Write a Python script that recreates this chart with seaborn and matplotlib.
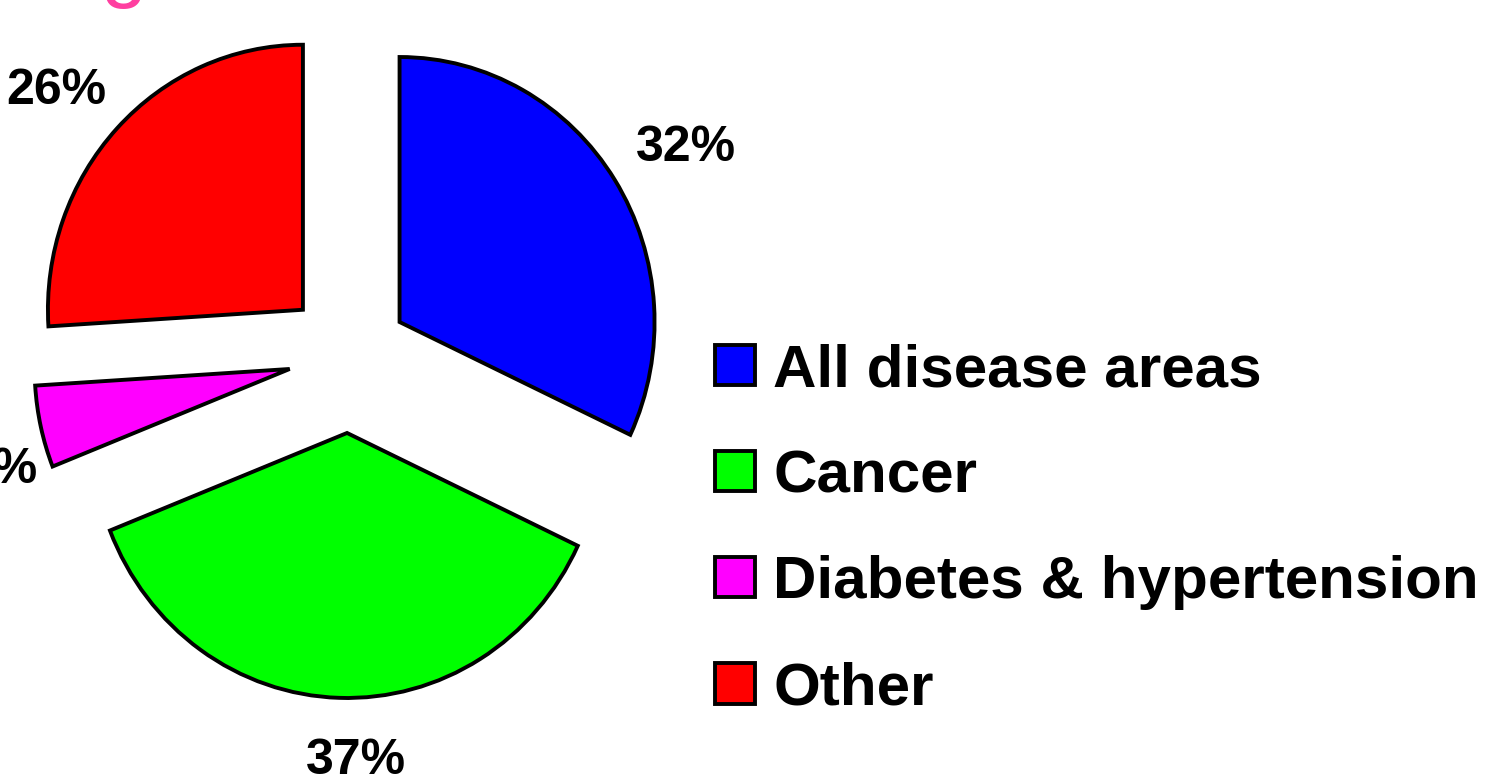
import matplotlib
matplotlib.use("Agg")
import numpy as np
import matplotlib.pyplot as plt
import seaborn as sns

# Share of projects by disease area
categories = ["All disease areas", "Cancer", "Diabetes & hypertension", "Other"]
shares = [32, 37, 5, 26]

# Styling
slice_colors = ["#0000FF", "#00FF00", "#FF00FF", "#FF0000"]
explode = [0.233, 0.294, 0.24, 0.25]
label_dist = [1.30, 1.24, 1.19, 1.27]    # radial distance of each % label
label_turn = [-2.1, 3.5, 6.0, 2.7]       # small angular nudge (degrees)
title_color = "#FF3FA0"

sns.set_theme(style="white")
plt.rcParams["font.family"] = ["Liberation Sans", "DejaVu Sans"]
plt.rcParams["text.color"] = "black"

W, H = 1488, 774
fig = plt.figure(figsize=(W / 100, H / 100), dpi=100)
ax = fig.add_axes([0, 0, 1, 1])

wedges, texts, autotexts = ax.pie(
    shares,
    explode=explode,
    colors=slice_colors,
    startangle=90,
    counterclock=False,
    autopct="%1.0f%%",
    wedgeprops=dict(edgecolor="black", linewidth=2.8),
    textprops=dict(fontsize=36, fontweight="bold", color="black"),
)

# place each percentage label outside its own (exploded) slice
for w, t, d, turn in zip(wedges, autotexts, label_dist, label_turn):
    mid = np.deg2rad((w.theta1 + w.theta2) / 2 + turn)
    x0, y0 = w.center
    t.set_position((x0 + d * np.cos(mid), y0 + d * np.sin(mid)))

# pie centre and radii in pixels (slightly taller than wide)
cx, cy, rx, ry = 349.4, 355.1, 255, 265
ax.set_aspect("auto")
ax.set_xlim(-cx / rx, (W - cx) / rx)
ax.set_ylim((cy - H) / ry, cy / ry)
ax.axis("off")

leg = fig.legend(
    wedges,
    categories,
    loc="upper left",
    bbox_to_anchor=(715 / W, 1 - 343 / H),
    frameon=False,
    prop={"size": 43.3, "weight": "bold"},
    handlelength=0.66,
    handleheight=0.66,
    handletextpad=0.31,
    labelspacing=0.85,
    borderpad=0,
    borderaxespad=0,
)
for txt in leg.get_texts():
    txt.set_color("black")

# slide heading running off the top edge
fig.text(100 / W, 1 + 8 / H, "g", color=title_color, fontsize=60,
         ha="left", va="baseline")

fig.savefig("out.png", dpi=100)
